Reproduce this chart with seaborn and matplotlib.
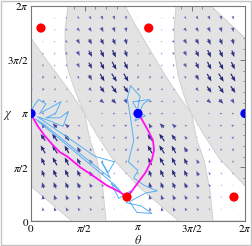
import numpy as np
import pandas as pd
import matplotlib
matplotlib.use("Agg")
import matplotlib.pyplot as plt
import seaborn as sns
from matplotlib.patches import Polygon, Rectangle
from matplotlib.colors import LinearSegmentedColormap, Normalize

PI = np.pi

# ---- data (angles in units of pi) ----
red_theta = [0.093, 1.10, 0.897, 1.897]
red_chi = [1.795, 1.795, 0.223, 0.223]
blue_theta = [0.0, 1.0, 2.0]
blue_chi = [1.0, 1.0, 1.0]

# magenta orbits: source -> (0, pi) and source -> (pi, pi)
mag1_theta = [0.0, 0.03, 0.065, 0.13, 0.21, 0.27, 0.34, 0.46, 0.58, 0.71, 0.83, 0.90]
mag1_chi = [0.99, 0.94, 0.88, 0.79, 0.70, 0.64, 0.60, 0.50, 0.42, 0.33, 0.27, 0.22]
mag2_theta = [0.90, 0.98, 1.07, 1.13, 1.15, 1.14, 1.09, 1.05, 1.01]
mag2_chi = [0.22, 0.33, 0.45, 0.57, 0.66, 0.75, 0.85, 0.92, 0.99]

# noisy trajectory
lb_theta = [0.00, 0.07, 0.14, 0.08, 0.21, 0.28, 0.23, 0.14, 0.27, 0.35, 0.30, 0.18, 0.06,
            0.60, 0.78, 0.72, 0.66, 0.74, 0.12, 0.04,
            0.79, 0.84, 0.75, 0.82, 0.93, 0.89, 1.03, 1.13, 0.99, 0.92, 1.07, 1.18, 1.06,
            0.96, 1.00, 0.91, 0.96, 0.93, 0.90, 0.93, 1.02, 0.99, 1.07, 0.97, 1.05, 1.11,
            0.95, 1.01]
lb_chi = [1.03, 1.13, 1.09, 1.00, 1.07, 1.11, 1.00, 0.96, 0.96, 1.02, 0.88, 0.93, 0.97,
          0.60, 0.55, 0.45, 0.55, 0.40, 0.90, 0.95,
          0.33, 0.27, 0.35, 0.21, 0.28, 0.17, 0.14, 0.07, 0.08, 0.18, 0.26, 0.28, 0.33,
          0.40, 0.47, 0.55, 0.75, 0.96, 1.14, 1.26, 1.16, 1.01, 0.98, 0.93, 1.09, 1.13,
          1.11, 1.00]

# unshaded (white) lobes
# top-left lobe (around the first red dot); repeated at +2pi for the top-right corner
white_a_theta = [-0.318, 0.346, 0.318, 0.318, 0.346, 0.402, 0.458, 0.5, 0.393, 0.271, 0.131, 0.0]
white_a_chi = [2.0, 2.0, 1.777, 1.591, 1.405, 1.237, 1.098, 1.0, 1.163, 1.330, 1.516, 1.702]
# top-middle lobe (around the second red dot)
white_b_theta = [0.879, 1.355, 1.336, 1.346, 1.374, 1.421, 1.467, 1.5, 1.374, 1.252, 1.112, 0.991]
white_b_chi = [2.0, 2.0, 1.777, 1.544, 1.358, 1.191, 1.070, 1.0, 1.172, 1.358, 1.591, 1.795]
# lower arm of the X at (pi/2, pi); repeated at +pi and -pi
white_l_theta = [0.5, 0.617, 0.757, 0.879, 1.019, 1.206, 1.383, 0.701, 0.673, 0.617, 0.551]
white_l_chi = [1.0, 0.80, 0.586, 0.456, 0.307, 0.149, 0.0, 0.0, 0.288, 0.567, 0.753]

# vector field over one period in theta (cols theta = k*pi/9, k=0..8),
# rows chi = j*pi/9 from j=18 (top) down to j=1; direction (deg) and length
field_ang = [
    [-90, 0, -20, -40, -50, -60, -65, -75, -85],
    [-100, 0, -10, -35, -55, -60, -65, -75, -85],
    [-120, -70, -20, -40, -55, -60, -65, -70, -80],
    [-110, -90, -50, -50, -60, -62, -65, -68, -75],
    [-100, -95, -70, -60, -62, -63, -65, -65, -70],
    [-100, -100, -90, -70, -62, -63, -64, -62, -65],
    [-110, -110, -110, -100, -65, -60, -60, -58, -60],
    [-130, -130, -140, -150, -90, -50, -55, -55, -55],
    [-160, -160, -165, -170, -150, -30, -40, -45, -60],
    [0, 180, 180, 180, 180, 0, 0, 0, 0],
    [20, 120, 135, 140, 150, 30, 10, 15, 20],
    [50, 125, 125, 125, 130, 90, 30, 40, 50],
    [70, 120, 122, 120, 120, 115, 80, 70, 70],
    [80, 115, 118, 116, 117, 118, 110, 90, 80],
    [80, 110, 115, 115, 117, 118, 120, 110, 85],
    [70, 105, 112, 115, 118, 120, 130, 130, 90],
    [60, 100, 110, 115, 120, 125, 140, 160, 110],
    [80, 95, 105, 115, 120, 125, 145, 170, 180],
]
field_len = [
    [1, 0.8, 1, 1.5, 2, 2.5, 3, 3, 3],
    [1, 0.6, 1.2, 2, 3, 3.5, 4, 4, 3.5],
    [1.2, 0.5, 1.5, 2.5, 4, 4.5, 5, 5, 4.5],
    [1.5, 1.2, 1.5, 3, 5, 6, 6.5, 6.5, 6],
    [2, 2, 2, 3, 5, 7, 8, 8, 7],
    [2.5, 2.5, 2, 2.5, 4.5, 7, 8.5, 9, 8],
    [3, 3, 2.5, 2, 3, 6, 8.5, 9.5, 9],
    [3, 3, 2.5, 2, 1.2, 4, 7.5, 9, 8],
    [2.5, 3, 2.5, 2, 1, 2.5, 5, 6, 5],
    [0, 2.5, 2.5, 2, 0.8, 0.8, 2, 2.5, 2.5],
    [2.5, 5, 6, 5, 2.5, 1, 2, 2.5, 3],
    [3, 8, 9, 7.5, 4, 1.2, 2, 2.5, 3],
    [3, 9, 9.5, 8.5, 6, 3, 2, 2.5, 3],
    [2.5, 8, 9, 8.5, 7, 4.5, 2.5, 2, 2.5],
    [2, 7, 8, 8, 7, 5, 3, 2, 2],
    [1.5, 6, 6.5, 6.5, 6, 4.5, 3, 1.5, 1.2],
    [1.2, 4.5, 5, 5, 4.5, 3.5, 2.5, 1.5, 0.5],
    [1, 3.5, 4, 4, 3.5, 3, 2, 1.2, 0.8],
]

# ---- figure ----
sns.set_theme(style="white")
plt.rcParams["mathtext.fontset"] = "stix"
plt.rcParams["font.family"] = ["Liberation Serif", "DejaVu Serif"]

fig = plt.figure(figsize=(2.52, 2.46), dpi=100)
ax = fig.add_axes([31 / 252, 1 - 221 / 246, 214 / 252, 215 / 246])
ax.set_facecolor("#e3e3e3")

lobes = [(white_a_theta, white_a_chi, 0), (white_a_theta, white_a_chi, 2),
         (white_b_theta, white_b_chi, 0),
         (white_l_theta, white_l_chi, -1), (white_l_theta, white_l_chi, 0),
         (white_l_theta, white_l_chi, 1)]
for th, ch, shift in lobes:
    pts = np.column_stack([(np.array(th) + shift) * PI, np.array(ch) * PI])
    ax.add_patch(Polygon(pts, closed=True, facecolor="white",
                         edgecolor="#cccccc", lw=0.6, zorder=1))

ang = np.deg2rad(np.tile(np.array(field_ang, dtype=float), (1, 2)))
ln = np.tile(np.array(field_len, dtype=float), (1, 2))
kk = np.arange(18) * PI / 9
jj = np.arange(18, 0, -1) * PI / 9
TH, CH = np.meshgrid(kk, jj)
U = ln * np.cos(ang)
V = ln * np.sin(ang)
cmap = LinearSegmentedColormap.from_list("arr", ["#a8a8da", "#6464b4", "#262678"])
mask = ln > 0
ax.quiver(TH[mask], CH[mask], U[mask], V[mask], ln[mask], cmap=cmap,
          norm=Normalize(0, 8), angles="xy", scale_units="xy", scale=34,
          pivot="middle", width=0.0055, headwidth=3.6, headlength=4.5,
          headaxislength=4, minlength=0.3, zorder=2)

sns.lineplot(x=np.array(lb_theta) * PI, y=np.array(lb_chi) * PI, sort=False,
             estimator=None, color="#5aaef4", lw=0.7, ax=ax, zorder=3)
sns.lineplot(x=np.array(mag1_theta) * PI, y=np.array(mag1_chi) * PI, sort=False,
             estimator=None, color="#ff10f0", lw=1.3, ax=ax, zorder=4)
sns.lineplot(x=np.array(mag2_theta) * PI, y=np.array(mag2_chi) * PI, sort=False,
             estimator=None, color="#ff10f0", lw=1.3, ax=ax, zorder=4)
sns.scatterplot(x=np.array(red_theta) * PI, y=np.array(red_chi) * PI, color="#ff0000",
                s=44, edgecolor="none", ax=ax, zorder=5)
sns.scatterplot(x=np.array(blue_theta) * PI, y=np.array(blue_chi) * PI, color="#0000ff",
                s=44, edgecolor="none", ax=ax, zorder=5)

ax.set_xlim(0, 2 * PI)
ax.set_ylim(0, 2 * PI)
ticks = [0, PI / 2, PI, 3 * PI / 2, 2 * PI]
labels = ["$0$", r"$\pi/2$", r"$\pi$", r"$3\pi/2$", r"$2\pi$"]
ax.set_xticks(ticks)
ax.set_xticklabels(labels)
ax.set_yticks(ticks)
ax.set_yticklabels(labels)
ax.set_xticks(np.arange(0, 21) * PI / 10, minor=True)
ax.set_yticks(np.arange(0, 21) * PI / 10, minor=True)
ax.tick_params(which="both", direction="in", top=True, right=True, colors="#666666",
               labelcolor="black", labelsize=8, pad=1.5)
ax.tick_params(which="major", length=3.5, width=0.6)
ax.tick_params(which="minor", length=1.8, width=0.5)
for sp in ax.spines.values():
    sp.set_color("#777777")
    sp.set_linewidth(0.8)
ax.set_xlabel("")
ax.set_ylabel("")

fig.text(138 / 252, 1 - 240 / 246, r"$\theta$", ha="center", va="center", fontsize=9)
fig.text(8 / 252, 1 - 116 / 246, r"$\chi$", ha="center", va="center", fontsize=9)
fig.patches.append(Rectangle((0.004, 0.004), 0.992, 0.992, transform=fig.transFigure,
                             fill=False, edgecolor="#c4c4c4", lw=1.0))

fig.savefig("out.png", dpi=100)
